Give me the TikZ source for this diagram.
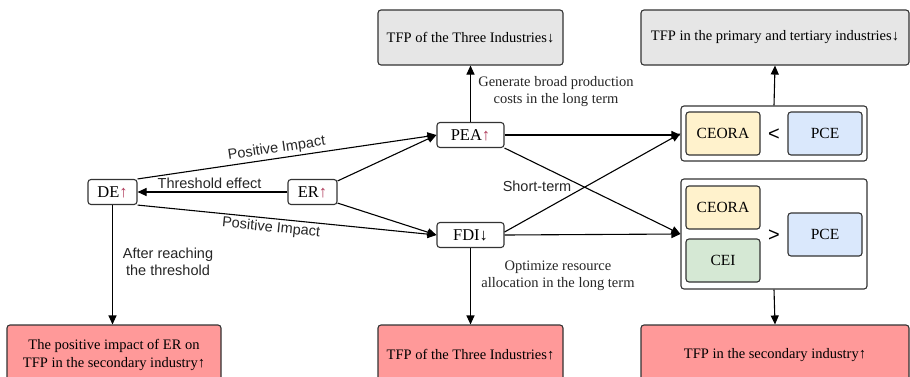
\documentclass[tikz,border=0pt]{standalone}
\usepackage{fontspec}
\setmainfont{Liberation Serif}
\setsansfont{Liberation Sans}
\usetikzlibrary{arrows.meta,positioning}
\definecolor{grayfill}{HTML}{E6E6E6}
\definecolor{pinkfill}{HTML}{FF9999}
\definecolor{yel}{HTML}{FFF2CC}
\definecolor{blu}{HTML}{DAE8FC}
\definecolor{grn}{HTML}{D5E8D4}
\definecolor{edge}{HTML}{333333}
\definecolor{uparr}{HTML}{B03A5A}
\tikzset{
  box/.style={draw=edge, line width=1.1pt, rounded corners=3pt, align=center, inner sep=0pt},
  small/.style={box, fill=white, font=\fontsize{16.5}{18}\selectfont, minimum height=25pt},
  bigbox/.style={box, fill=grayfill, minimum width=185pt, minimum height=55pt, font=\fontsize{14.5}{17}\selectfont},
  pinkbox/.style={box, fill=pinkfill, minimum height=60pt, font=\fontsize{14.5}{18}\selectfont},
  inner/.style={box, minimum width=74pt, minimum height=43pt, font=\fontsize{15.5}{18}\selectfont},
  group/.style={box, fill=white, minimum width=186pt},
  arr/.style={-{Triangle[length=9pt,width=8pt]}, line width=1.1pt, black},
  slab/.style={font=\sffamily\fontsize{14.5}{17}\selectfont, text=black!85},
  rlab/.style={font=\fontsize{14.5}{17}\selectfont, text=black!85, align=center},
  cmp/.style={font=\sffamily\fontsize{20}{20}\selectfont},
}
\begin{document}
\begin{tikzpicture}[x=1pt,y=-1pt]
\useasboundingbox (0,0) rectangle (910,376);
\clip (0,0) rectangle (910,376);
\fill[white] (0,0) rectangle (910,376);

% small nodes
\node[small, minimum width=49pt] (DE) at (112.5,192) {DE\textcolor{uparr}{↑}};
\node[small, minimum width=49pt] (ER) at (312.5,192) {ER\textcolor{uparr}{↑}};
\node[small, minimum width=67pt] (PEA) at (470.5,135) {PEA\textcolor{uparr}{↑}};
\node[small, minimum width=67pt] (FDI) at (470.5,235) {FDI↓};

% top boxes
\node[bigbox] (T1) at (470.5,37.5) {TFP of the Three Industries↓};
\node[bigbox, minimum width=268pt] (T2) at (775,37.5) {TFP in the primary and tertiary industries↓};

% group boxes
\node[group, minimum height=55pt] (G1) at (774,133.5) {};
\node[inner, fill=yel] (C1) at (723,133.5) {CEORA};
\node[inner, fill=blu] (P1) at (825,133.5) {PCE};
\node[cmp] (LT) at (774,134.5) {<};

\node[group, minimum height=110pt] (G2) at (774,234) {};
\node[inner, fill=yel] (C2) at (723,207.5) {CEORA};
\node[inner, fill=grn] (E2) at (723,260.5) {CEI};
\node[inner, fill=blu] (P2) at (825,234.5) {PCE};
\node[cmp] (GT) at (774,235.5) {>};

% bottom boxes
\node[pinkbox, minimum width=214pt] (B1) at (114,355) {The positive impact of ER on\\TFP in the secondary industry↑};
\node[pinkbox, minimum width=185pt] (B2) at (470.5,355) {TFP of the Three Industries↑};
\node[pinkbox, minimum width=268pt] (B3) at (775,355) {TFP in the secondary industry↑};

% connectors
\draw[arr] (ER.west) -- node[slab, above, pos=0.52, yshift=-1pt] {Threshold effect} (DE.east);
\draw[arr] (DE.north east) -- node[slab, sloped, above, pos=0.47, yshift=-1pt] {Positive Impact} (PEA.west);
\draw[arr] (DE.south east) -- node[slab, sloped, below, pos=0.45, yshift=1pt] {Positive Impact} (FDI.west);
\draw[arr] ([yshift=-2pt]ER.north east) -- (PEA.west);
\draw[arr] ([yshift=2pt]ER.south east) -- (FDI.west);

\draw[arr] (PEA.north) -- (T1.south);
\node[rlab] (L1) at (556,92) {Generate broad production\\costs in the long term};
\draw[arr] (FDI.south) -- (B2.north);
\node[rlab] (L2) at (558,276) {Optimize resource\\allocation in the long term};
\draw[arr] (DE.south) -- (DE.south |- B1.north);
\node[slab, align=center] (L3) at (168,262) {After reaching\\the threshold};

\draw[arr] (PEA.east) -- (PEA.east -| G1.west);
\draw[arr] (PEA.south east) -- (G2.west);
\draw[arr] ([yshift=3pt]FDI.east) -- (G1.west);
\draw[arr] (FDI.east) -- (G2.west);
\node[slab] (ST) at (537,186) {Short-term};

\draw[arr] (G1.north) -- (T2.south);
\draw[arr] (G2.south) -- (B3.north);
\end{tikzpicture}
\end{document}
